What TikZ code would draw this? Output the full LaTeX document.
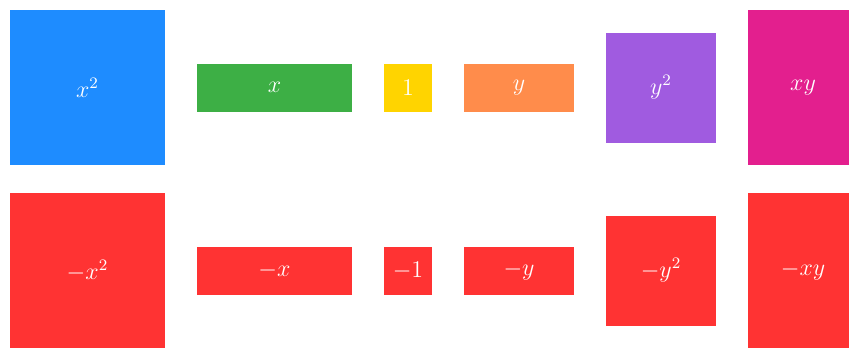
\documentclass[tikz,border=0pt]{standalone}
\usepackage{amsmath}
\usepackage{tikz}
\usetikzlibrary{positioning}

\definecolor{tileblue}{HTML}{1E8CFF}
\definecolor{tilegreen}{HTML}{3DAF45}
\definecolor{tileyellow}{HTML}{FFD400}
\definecolor{tileorange}{HTML}{FF8C4B}
\definecolor{tilepurple}{HTML}{A05BE0}
\definecolor{tilepink}{HTML}{E31F8E}
\definecolor{tilered}{HTML}{FF3333}

\begin{document}
\begin{tikzpicture}[
    % --- Global Styles ---
    tile/.style={rectangle, inner sep=0pt, outer sep=0pt, text=white, font=\large},
    xsquare/.style={tile, minimum width=77.5pt, minimum height=77.5pt},
    ysquare/.style={tile, minimum width=55pt, minimum height=55pt},
    xbar/.style={tile, minimum width=77.5pt, minimum height=24pt},
    ybar/.style={tile, minimum width=55pt, minimum height=24pt},
    unit/.style={tile, minimum width=24pt, minimum height=24pt},
    xyrect/.style={tile, minimum width=55pt, minimum height=77.5pt},
    negative/.style={fill=tilered}
]

    % --- Frame ---
    \useasboundingbox (-43.75pt,43.75pt) rectangle (380.75pt,-130.75pt);
    \clip (-43.75pt,43.75pt) rectangle (380.75pt,-130.75pt);

    % --- Positive tiles ---
    \node[xsquare, fill=tileblue] (xsq) at (0,0) {$x^2$};
    \node[xbar, fill=tilegreen, right=16pt of xsq] (xb) {$x$};
    \node[unit, fill=tileyellow, right=16pt of xb] (one) {$1$};
    \node[ybar, fill=tileorange, right=16pt of one] (yb) {$y$};
    \node[ysquare, fill=tilepurple, right=16pt of yb] (ysq) {$y^2$};
    \node[xyrect, fill=tilepink, right=16pt of ysq] (xyr) {$xy$};

    % --- Negative tiles ---
    \node[xsquare, negative, below=14pt of xsq] (nxsq) {$-x^2$};
    \node[xbar, negative, right=16pt of nxsq] (nxb) {$-x$};
    \node[unit, negative, right=16pt of nxb] (none) {$-1$};
    \node[ybar, negative, right=16pt of none] (nyb) {$-y$};
    \node[ysquare, negative, right=16pt of nyb] (nysq) {$-y^2$};
    \node[xyrect, negative, right=16pt of nysq] (nxyr) {$-xy$};

\end{tikzpicture}
\end{document}
